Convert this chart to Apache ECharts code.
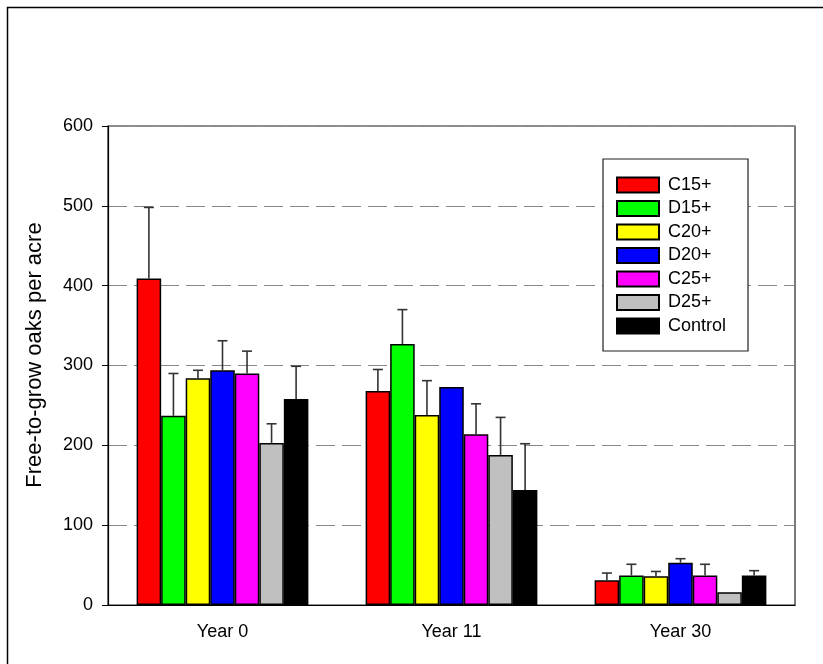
<!DOCTYPE html>
<html>
<head>
<meta charset="utf-8">
<script src="https://cdn.jsdelivr.net/npm/echarts@6/dist/echarts.min.js"></script>
<style>
  html, body { margin: 0; padding: 0; background: #fff; }
  #chart { width: 823px; height: 664px; }
</style>
</head>
<body>
<div id="chart"></div>
<script>
// Sampling periods
const years = ['Year 0', 'Year 11', 'Year 30'];

// Treatments and their fill colours
const treatments = ['C15+', 'D15+', 'C20+', 'D20+', 'C25+', 'D25+', 'Control'];
const colors = ['#ff0000', '#00ff00', '#ffff00', '#0000ff', '#ff00ff', '#c0c0c0', '#000000'];

// Mean free-to-grow oaks per acre (one entry per year)
const c15Mean = [409, 268, 31];
const d15Mean = [237, 327, 37];
const c20Mean = [284, 238, 36];
const d20Mean = [294, 273, 53];
const c25Mean = [290, 214, 37];
const d25Mean = [203, 188, 16];
const controlMean = [258, 144, 37];

// Standard error (upper whisker length)
const c15Err = [89, 27, 9];
const d15Err = [53, 43, 14];
const c20Err = [10, 43, 6];
const d20Err = [37, 0, 5];
const c25Err = [28, 38, 14];
const d25Err = [24, 47, 0];
const controlErr = [41, 58, 6];

const yTicks = [0, 100, 200, 300, 400, 500, 600];
const yTitle = 'Free-to-grow oaks per acre';

const means = [c15Mean, d15Mean, c20Mean, d20Mean, c25Mean, d25Mean, controlMean];
const errs = [c15Err, d15Err, c20Err, d20Err, c25Err, d25Err, controlErr];

const FONT = '"Liberation Sans", Arial, sans-serif';
const GROUP_FRACTION = 0.75;
const nSeries = treatments.length;

const barSeries = treatments.map((name, i) => ({
  name: name,
  type: 'bar',
  data: means[i],
  barGap: '0%',
  barCategoryGap: '25%',
  itemStyle: { color: colors[i], borderColor: '#000', borderWidth: 1.5 },
  z: 2
}));

const errorSeries = treatments.map((name, i) => ({
  type: 'custom',
  name: name + ' SE',
  data: means[i].map((m, k) => [k, m, m + errs[i][k]]),
  encode: { x: 0, y: [1, 2] },
  z: 3,
  silent: true,
  renderItem: function (params, api) {
    const k = api.value(0);
    const lo = api.coord([k, api.value(1)]);
    const hi = api.coord([k, api.value(2)]);
    const catW = api.size([1, 0])[0];
    const barW = catW * GROUP_FRACTION / nSeries;
    const x = lo[0] + (i - (nSeries - 1) / 2) * barW;
    if (api.value(2) - api.value(1) <= 0) return null;
    const capHalf = 5;
    const style = { stroke: '#333', lineWidth: 1.6, fill: null };
    return {
      type: 'group',
      children: [
        { type: 'line', shape: { x1: x, y1: lo[1], x2: x, y2: hi[1] }, style: style },
        { type: 'line', shape: { x1: x - capHalf, y1: hi[1], x2: x + capHalf, y2: hi[1] }, style: style }
      ]
    };
  }
}));

const chart = echarts.init(document.getElementById('chart'));
chart.setOption({
  animation: false,
  backgroundColor: '#fff',
  textStyle: { fontFamily: FONT },
  graphic: [
    {
      type: 'polyline',
      shape: { points: [[7.5, 700], [7.5, 7.5], [900, 7.5]] },
      style: { stroke: '#000', lineWidth: 1.5, fill: null },
      silent: true
    },
    {
      type: 'text',
      x: 35, y: 355,
      rotation: Math.PI / 2,
      style: {
        text: yTitle,
        fontFamily: FONT, fontSize: 22, fill: '#000',
        align: 'center', verticalAlign: 'middle'
      },
      silent: true
    }
  ],
  grid: {
    left: 108, top: 126, right: 28, bottom: 59,
    show: true, borderColor: '#222', borderWidth: 1.2
  },
  legend: {
    data: treatments,
    orient: 'vertical',
    left: 603, top: 159,
    padding: [17, 22, 16, 13],
    icon: 'rect',
    itemWidth: 42,
    itemHeight: 15,
    itemGap: 5.5,
    borderColor: '#222',
    borderWidth: 1.2,
    backgroundColor: '#fff',
    textStyle: { fontFamily: FONT, fontSize: 18, color: '#000', padding: [0, 0, 0, 4] }
  },
  xAxis: {
    type: 'category',
    data: years,
    axisLine: { lineStyle: { color: '#000', width: 1.2 } },
    axisTick: { alignWithLabel: true, length: 6, lineStyle: { color: '#000' } },
    axisLabel: { fontFamily: FONT, fontSize: 18, color: '#000', margin: 18 }
  },
  yAxis: {
    type: 'value',
    min: yTicks[0],
    max: yTicks[yTicks.length - 1],
    interval: 100,
    axisLine: { show: true, lineStyle: { color: '#000', width: 1.2 } },
    axisTick: { show: true, length: 6, lineStyle: { color: '#000' } },
    axisLabel: { fontFamily: FONT, fontSize: 18, color: '#000', margin: 15 },
    splitLine: { show: true, lineStyle: { color: '#888', type: [19, 7], width: 1.2 } }
  },
  series: barSeries.concat(errorSeries)
});
</script>
</body>
</html>
